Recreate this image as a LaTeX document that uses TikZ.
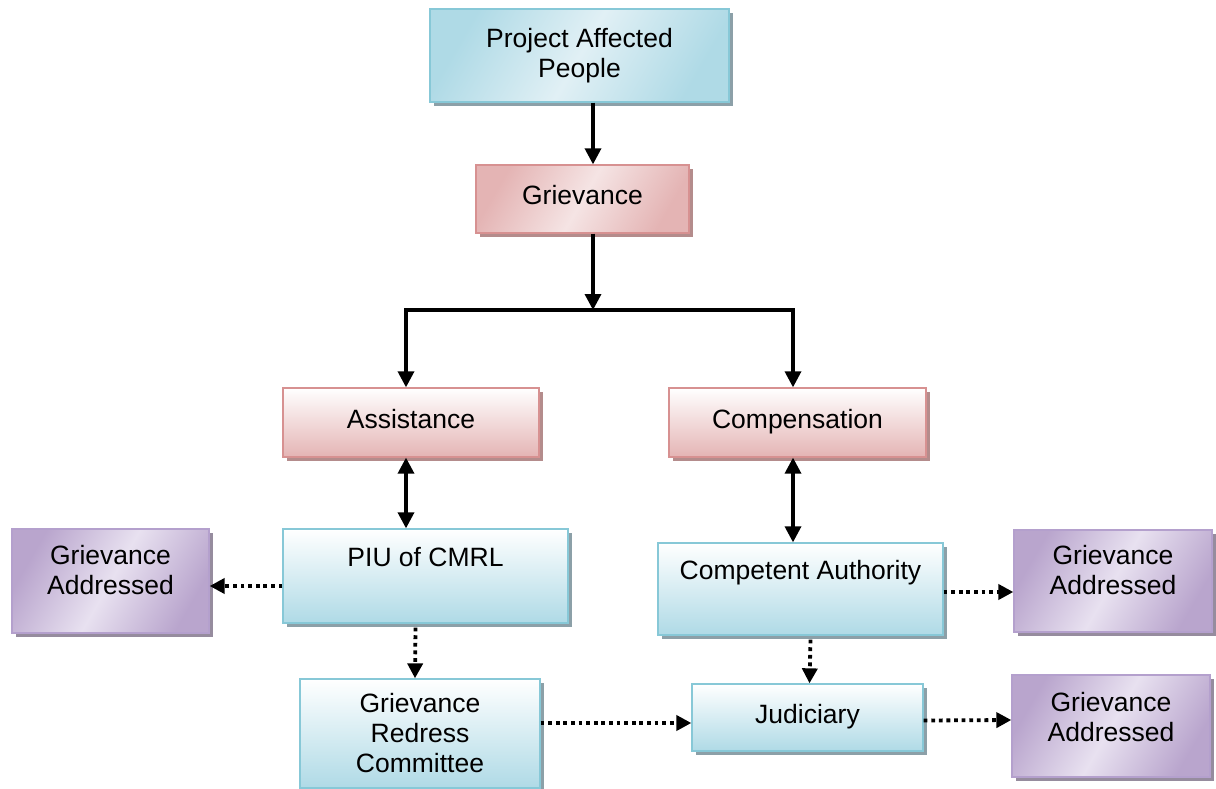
\documentclass[tikz,border=0pt]{standalone}
\usepackage{fontspec}
\setmainfont{Liberation Sans}
\usetikzlibrary{arrows.meta,shadows,calc}
\definecolor{bluebd}{RGB}{135,200,215}
\definecolor{bluelt}{RGB}{175,218,230}
\definecolor{bluemid}{RGB}{225,240,245}
\definecolor{bluesh}{RGB}{140,160,168}
\definecolor{redbd}{RGB}{215,145,145}
\definecolor{redlt}{RGB}{228,180,180}
\definecolor{redmid}{RGB}{245,228,228}
\definecolor{redsh}{RGB}{180,140,140}
\definecolor{purbd}{RGB}{180,160,205}
\definecolor{purlt}{RGB}{185,165,205}
\definecolor{purmid}{RGB}{232,225,240}
\definecolor{pursh}{RGB}{150,140,158}
\tikzset{
  box/.style={rectangle, line width=1.3pt, align=center, inner sep=0pt,
    font=\fontsize{26.5}{30}\selectfont},
  oneline/.style={text height=19pt, text depth=8pt},
  blueshade/.style={box, draw=bluebd, top color=white, bottom color=bluelt,
    drop shadow={shadow xshift=4pt,shadow yshift=-4pt,fill=bluesh,opacity=1,draw=none}},
  bluediag/.style={box, draw=bluebd, top color=bluelt, bottom color=bluelt, middle color=bluemid, shading angle=60,
    drop shadow={shadow xshift=4pt,shadow yshift=-4pt,fill=bluesh,opacity=1,draw=none}},
  redshade/.style={box, draw=redbd, top color=white, bottom color=redlt,
    drop shadow={shadow xshift=4pt,shadow yshift=-4pt,fill=redsh,opacity=1,draw=none}},
  reddiag/.style={box, draw=redbd, top color=redlt, bottom color=redlt, middle color=redmid, shading angle=60,
    drop shadow={shadow xshift=4pt,shadow yshift=-4pt,fill=redsh,opacity=1,draw=none}},
  purdiag/.style={box, draw=purbd, top color=purlt, bottom color=purlt, middle color=purmid, shading angle=60,
    drop shadow={shadow xshift=4pt,shadow yshift=-4pt,fill=pursh,opacity=1,draw=none}},
  arr/.style={line width=3.4pt, -{Triangle[length=16pt,width=16pt]}},
  darr/.style={line width=3.4pt, {Triangle[length=16pt,width=16pt]}-{Triangle[length=16pt,width=16pt]}},
  dotarr/.style={line width=3.8pt, dash pattern=on 3.8pt off 3.8pt, -{Triangle[length=15pt,width=15pt]}},
}
\begin{document}
\begin{tikzpicture}[x=1pt,y=-1pt]
\useasboundingbox (0,0) rectangle (1216,789);
\node[bluediag, minimum width=299pt, minimum height=93pt] (pap) at (579.5,55.5) {Project Affected\\People};
\node[reddiag, oneline, minimum width=213pt, minimum height=68pt] (griev) at (582.5,199) {Grievance};
\node[redshade, oneline, minimum width=256pt, minimum height=69pt] (assist) at (411,422.5) {Assistance};
\node[redshade, oneline, minimum width=257pt, minimum height=69pt] (comp) at (797.5,422.5) {Compensation};
\node[blueshade, minimum width=285pt, minimum height=94pt] (piu) at (425.5,576) {PIU of CMRL\\[8pt]\mbox{}};
\node[blueshade, minimum width=285pt, minimum height=92pt] (ca) at (800.5,589) {Competent Authority\\[8pt]\mbox{}};
\node[purdiag, minimum width=197pt, minimum height=104pt] (gal) at (110.5,581) {Grievance\\Addressed\\[-8pt]\mbox{}};
\node[purdiag, minimum width=198pt, minimum height=102pt] (gar1) at (1113,581) {Grievance\\Addressed\\[-8pt]\mbox{}};
\node[purdiag, minimum width=198pt, minimum height=102pt] (gar2) at (1111,726) {Grievance\\Addressed\\[-12pt]\mbox{}};
\node[blueshade, minimum width=240pt, minimum height=109pt] (grc) at (420,733.5) {Grievance\\Redress\\Committee};
\node[blueshade, oneline, minimum width=231pt, minimum height=67pt] (jud) at (807.5,717.5) {Judiciary};
\coordinate (jx) at (593,0);
\coordinate (j) at (593,310);
\coordinate (ax) at (406,0);
\coordinate (cx) at (793,0);
\draw[arr] (pap.south -| jx) -- (griev.north -| jx);
\draw[arr] (griev.south -| j) -- (j);
\draw[arr] (j) -| (assist.north -| ax);
\draw[arr] (j) -| (comp.north -| cx);
\draw[darr] (assist.south -| ax) -- (piu.north -| ax);
\draw[darr] (comp.south -| cx) -- (ca.north -| cx);
\draw[dotarr] ($(piu.west)+(0,10)$) -- ($(gal.east)+(0,5)$);
\draw[dotarr] ($(piu.south)+(-10,4)$) -- ($(grc.north)+(-5,0)$);
\draw[dotarr] ($(ca.east)+(0,3)$) -- ($(gar1.west)+(0,11)$);
\draw[dotarr] ($(ca.south)+(10,4)$) -- ($(jud.north)+(2,0)$);
\draw[dotarr] ($(grc.east)+(0,-10.5)$) -- ($(jud.west)+(0,5.5)$);
\draw[dotarr] ($(jud.east)+(0,3)$) -- ($(gar2.west)+(0,-6)$);
\end{tikzpicture}
\end{document}
